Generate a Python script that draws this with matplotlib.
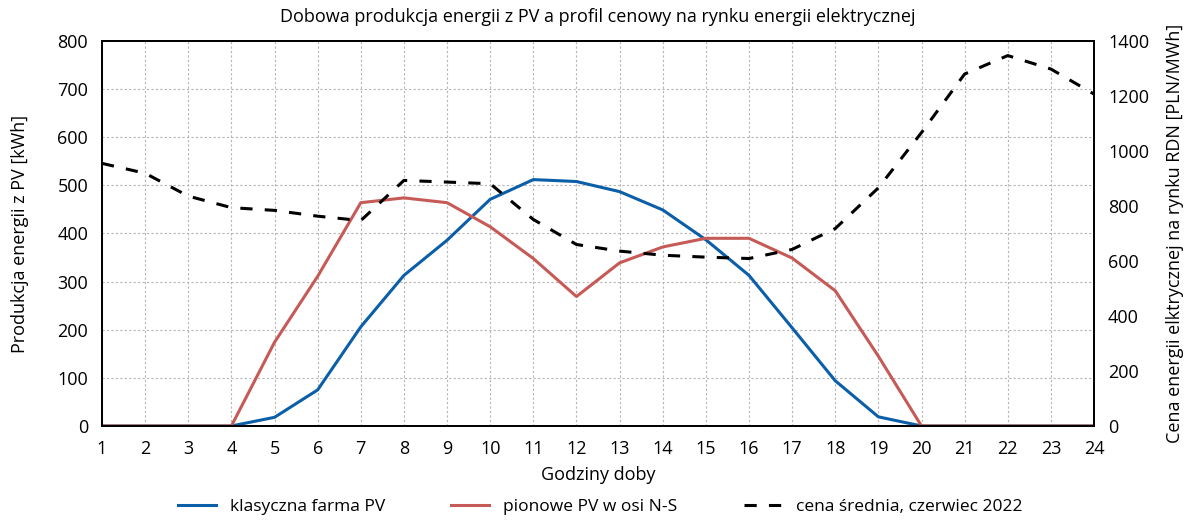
import matplotlib.pyplot as plt

plt.rcParams['font.family'] = ['Open Sans', 'DejaVu Sans']

godziny = list(range(1, 25))

# produkcja energii [kWh]
klasyczna = [0, 0, 0, 0, 18, 75, 206, 313, 386, 471, 512, 508, 487, 449, 387, 313,
             204, 94, 19, 0, 0, 0, 0, 0]
pionowe = [0, 0, 0, 0, 174, 311, 464, 474, 464, 414, 348, 269, 339, 372, 390, 390,
           349, 281, 145, 0, 0, 0, 0, 0]

# cena srednia RDN [PLN/MWh]
cena = [955, 919, 836, 794, 784, 763, 747, 893, 887, 881, 751, 660, 636, 621, 614, 609,
        642, 718, 866, 1067, 1280, 1347, 1298, 1207]

fig = plt.figure(figsize=(12, 5.25), dpi=100)
ax = fig.add_axes([0.085, 0.1886, 0.8267, 0.7333])
ax2 = ax.twinx()

l1, = ax.plot(godziny, klasyczna, color='#0b5ea8', lw=2.2, label='klasyczna farma PV')
l2, = ax.plot(godziny, pionowe, color='#c55a57', lw=2.2, label='pionowe PV w osi N-S')
l3, = ax2.plot(godziny, cena, color='black', lw=2.2, dashes=(4, 4),
               label='cena średnia, czerwiec 2022')

ax.set_xlim(1, 24)
ax.set_ylim(0, 800)
ax2.set_ylim(0, 1400)
ax.set_xticks(godziny)
ax.set_yticks(range(0, 801, 100))
ax2.set_yticks(range(0, 1401, 200))

ax.grid(True, color='#b5b5b5', linestyle=(0, (2, 2)), linewidth=0.8)
ax.set_axisbelow(True)

for a in (ax, ax2):
    a.tick_params(length=0, labelsize=13, pad=10)
    for s in a.spines.values():
        s.set_linewidth(1.3)

ax.set_title('Dobowa produkcja energii z PV a profil cenowy na rynku energii elektrycznej',
             fontsize=13, pad=14)
ax.set_xlabel('Godziny doby', fontsize=13, labelpad=6)
ax.set_ylabel('Produkcja energii z PV [kWh]', fontsize=13, labelpad=20)
ax2.set_ylabel('Cena energii elktrycznej na rynku RDN [PLN/MWh]', fontsize=13, labelpad=12)

fig.legend(handles=[l1, l2, l3], loc='lower center', bbox_to_anchor=(0.5, -0.01),
           ncol=3, frameon=False, fontsize=12.5, columnspacing=3.8, handlelength=2.2)

fig.savefig('out.png', dpi=100)
